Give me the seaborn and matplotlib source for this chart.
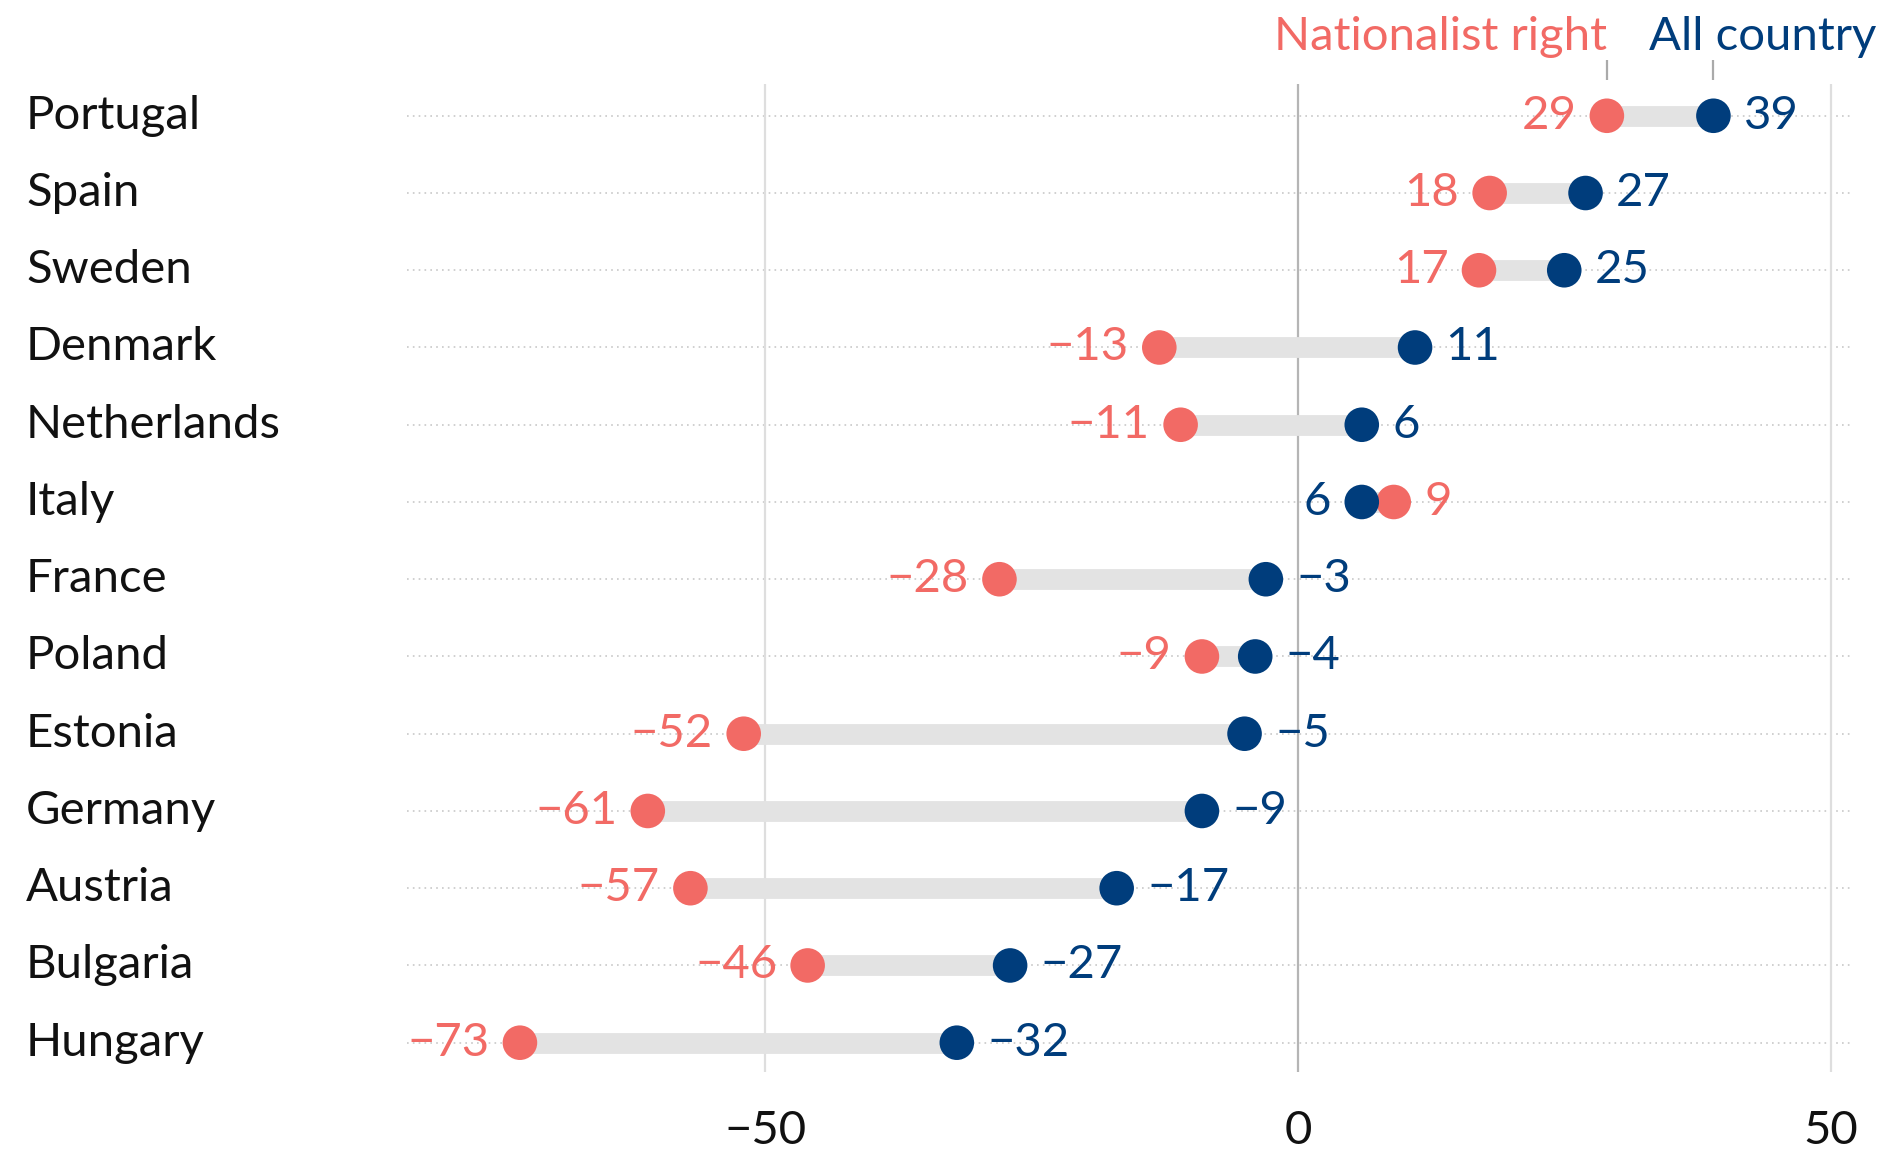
import pandas as pd
import seaborn as sns
import matplotlib.pyplot as plt

# values
countries = ["Portugal", "Spain", "Sweden", "Denmark", "Netherlands", "Italy", "France",
             "Poland", "Estonia", "Germany", "Austria", "Bulgaria", "Hungary"]
nationalist = [29, 18, 17, -13, -11, 9, -28, -9, -52, -61, -57, -46, -73]
all_country = [39, 27, 25, 11, 6, 6, -3, -4, -5, -9, -17, -27, -32]
ticks = [-50, 0, 50]

red = "#F26A65"
blue = "#003D7C"

df = pd.DataFrame({"country": countries, "nat": nationalist, "all": all_country})
df["row"] = range(len(df))

sns.set_style("white")
plt.rcParams["font.family"] = ["Lato", "DejaVu Sans"]

fig = plt.figure(figsize=(18.78, 11.52), dpi=100)
ax = fig.add_axes([0.2167, 0.0694, 0.7683, 0.8576])

# dotted row guides
for r in df.row:
    ax.axhline(r, color="#c8c8c8", lw=1.2, ls=(0, (1, 2.5)), zorder=0)

# vertical gridlines
for t in ticks:
    ax.axvline(t, color="#b5b5b5" if t == 0 else "#dedede", lw=1.6, zorder=0.5)

# grey connector bars
ax.hlines(df.row, df.nat, df["all"], color="#e3e3e3", lw=15, zorder=1)

sns.scatterplot(data=df, x="nat", y="row", color=red, s=620, edgecolor="none",
                zorder=3, ax=ax, legend=False)
sns.scatterplot(data=df, x="all", y="row", color=blue, s=620, edgecolor="none",
                zorder=3, ax=ax, legend=False)

def fmt(v):
    return str(v).replace("-", "\u2212")

fs = 34
off = 22
for _, d in df.iterrows():
    if d.nat <= d["all"]:
        ax.annotate(fmt(d.nat), (d.nat, d.row), xytext=(-off, 0), textcoords="offset points",
                    ha="right", va="center", color=red, fontsize=fs)
        ax.annotate(fmt(d["all"]), (d["all"], d.row), xytext=(off, 0), textcoords="offset points",
                    ha="left", va="center", color=blue, fontsize=fs)
    else:
        ax.annotate(fmt(d.nat), (d.nat, d.row), xytext=(off, 0), textcoords="offset points",
                    ha="left", va="center", color=red, fontsize=fs)
        ax.annotate(fmt(d["all"]), (d["all"], d.row), xytext=(-off, 0), textcoords="offset points",
                    ha="right", va="center", color=blue, fontsize=fs)

# country names
for _, d in df.iterrows():
    ax.text(-0.264, d.row, d.country, transform=ax.get_yaxis_transform(),
            ha="left", va="center", fontsize=fs, color="#111111")

# header legend
ax.text(29, -1.02, "Nationalist right", ha="right", va="center", color=red, fontsize=fs, clip_on=False)
ax.text(33, -1.02, "All country", ha="left", va="center", color=blue, fontsize=fs, clip_on=False)
ax.vlines([nationalist[0], all_country[0]], -0.72, -0.46, color="#aaaaaa", lw=1.6, clip_on=False)

ax.set_xlim(-83.6, 51.8)
ax.set_ylim(12.38, -0.41)
ax.set_xticks(ticks)
ax.set_xticklabels([fmt(t) for t in ticks], fontsize=fs, color="#111111")
ax.tick_params(axis="x", length=0, pad=27)
ax.set_yticks([])
ax.set_xlabel("")
ax.set_ylabel("")
sns.despine(ax=ax, left=True, bottom=True)

fig.savefig("out.png", dpi=100)
